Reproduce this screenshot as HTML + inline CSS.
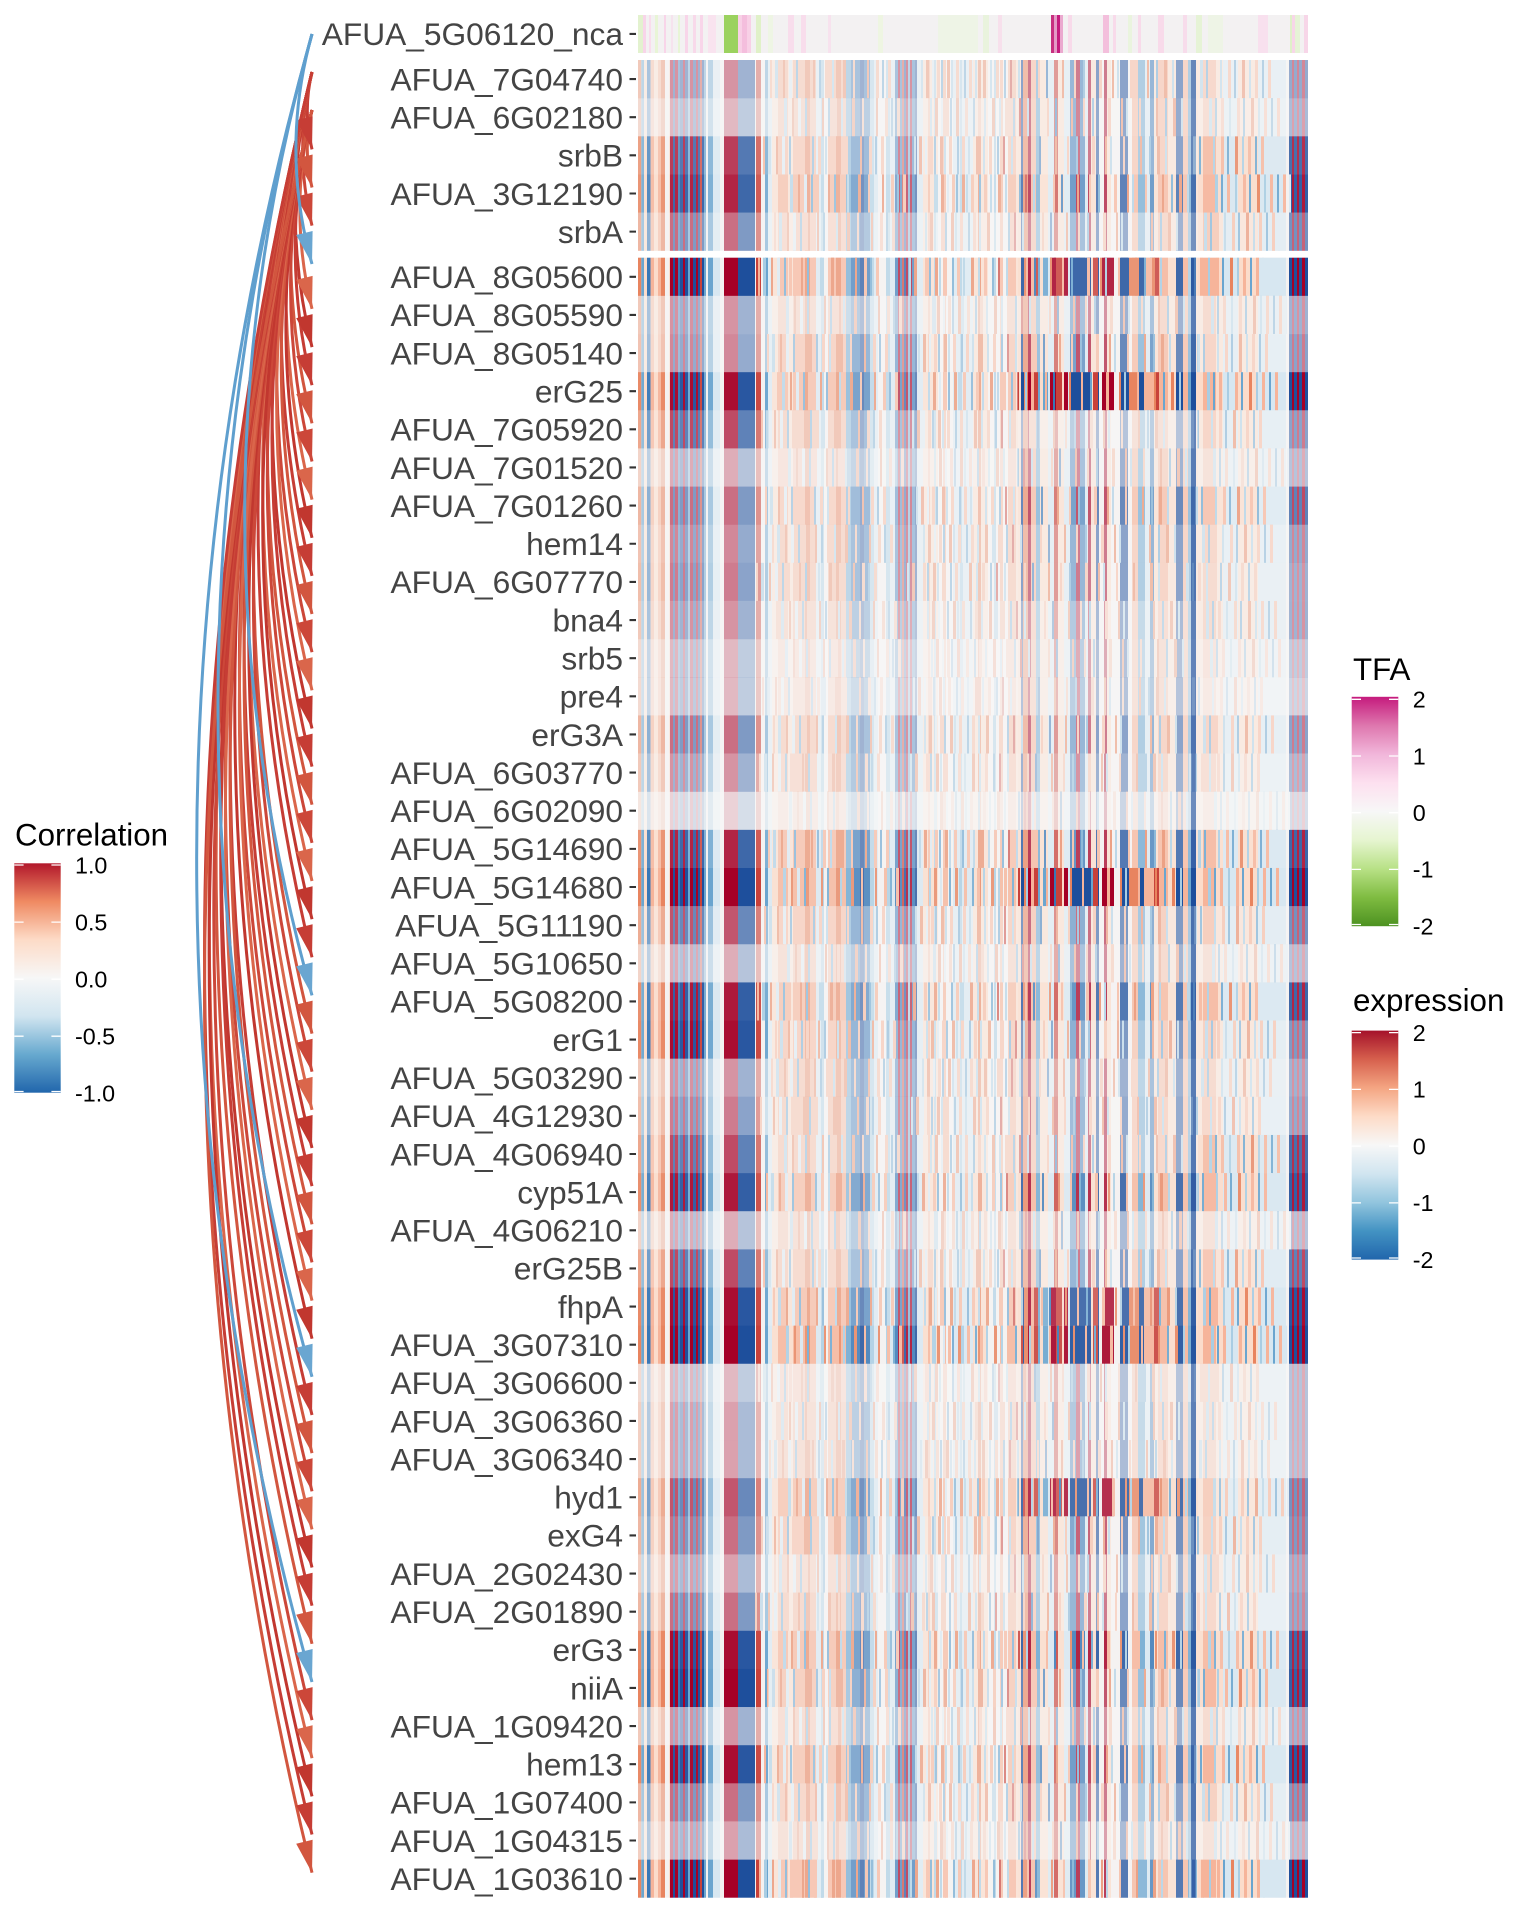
<!DOCTYPE html>
<html><head><meta charset="utf-8"><style>
html,body{margin:0;padding:0;background:#fff;}
svg{display:block;}
</style></head><body>
<svg width="1536" height="1920" viewBox="0 0 1536 1920" xmlns="http://www.w3.org/2000/svg" xmlns:xlink="http://www.w3.org/1999/xlink">
<defs>
<g id="pA">
<rect width="670" height="1" fill="#F4F1F0"/>
<rect x="0" width="3.3" height="1" fill="#E8845F"/><rect x="3.3" width="2.7" height="1" fill="#6AA5CF"/><rect x="6" width="3" height="1" fill="#FBDCCB"/><rect x="9" width="3.5" height="1" fill="#3877B6"/><rect x="12.5" width="3.5" height="1" fill="#F6B49A"/><rect x="16" width="4" height="1" fill="#FBDCCB"/><rect x="20" width="3" height="1" fill="#F6B49A"/><rect x="23" width="4" height="1" fill="#E8845F"/><rect x="31" width="1" height="1" fill="#FBDCCB"/>
<rect x="32" width="3" height="1" fill="#A50026"/><rect x="35" width="2" height="1" fill="#1E4F9C"/><rect x="37" width="3" height="1" fill="#A50026"/><rect x="40" width="2" height="1" fill="#3877B6"/><rect x="42" width="3" height="1" fill="#1E4F9C"/><rect x="45" width="2" height="1" fill="#A50026"/><rect x="47" width="3" height="1" fill="#1E4F9C"/><rect x="50" width="2" height="1" fill="#6AA5CF"/><rect x="52" width="3" height="1" fill="#A50026"/><rect x="55" width="3" height="1" fill="#1E4F9C"/><rect x="58" width="2" height="1" fill="#A50026"/><rect x="60" width="2" height="1" fill="#1E4F9C"/><rect x="62" width="2" height="1" fill="#C8413A"/><rect x="64" width="2" height="1" fill="#1E4F9C"/><rect x="66" width="2" height="1" fill="#6AA5CF"/>
<rect x="70" width="5" height="1" fill="#6AA5CF"/><rect x="75" width="7" height="1" fill="#D7E7F1"/><rect x="86" width="14" height="1" fill="#A50026"/><rect x="100" width="17" height="1" fill="#1E4F9C"/><rect x="118" width="5" height="1" fill="#C8413A"/><rect x="127" width="3" height="1" fill="#6AA5CF"/>
<rect x="130" width="4" height="1" fill="#D7E7F1"/><rect x="134" width="6" height="1" fill="#FBDCCB"/><rect x="140" width="10" height="1" fill="#F6B49A"/><rect x="150" width="5" height="1" fill="#FBDCCB"/><rect x="155" width="12" height="1" fill="#F6B49A"/><rect x="167" width="5" height="1" fill="#E8845F"/><rect x="172" width="6" height="1" fill="#F6B49A"/><rect x="178" width="5" height="1" fill="#D7E7F1"/><rect x="183" width="3" height="1" fill="#A9CDE3"/><rect x="190" width="8" height="1" fill="#F6B49A"/><rect x="198" width="5" height="1" fill="#E8845F"/><rect x="203" width="5" height="1" fill="#F6B49A"/>
<rect x="208" width="5" height="1" fill="#6AA5CF"/><rect x="213" width="9" height="1" fill="#3877B6"/><rect x="222" width="4" height="1" fill="#1E4F9C"/><rect x="226" width="6" height="1" fill="#3877B6"/><rect x="232" width="4" height="1" fill="#A9CDE3"/><rect x="236" width="4" height="1" fill="#D7E7F1"/><rect x="248" width="4" height="1" fill="#A9CDE3"/><rect x="252" width="5" height="1" fill="#D7E7F1"/>
<rect x="257" width="3" height="1" fill="#3877B6"/><rect x="260" width="2" height="1" fill="#A50026"/><rect x="262" width="2" height="1" fill="#3877B6"/><rect x="264" width="2" height="1" fill="#C8413A"/><rect x="266" width="2" height="1" fill="#1E4F9C"/><rect x="268" width="2" height="1" fill="#A50026"/><rect x="270" width="2" height="1" fill="#6AA5CF"/><rect x="272" width="2" height="1" fill="#A50026"/><rect x="274" width="3" height="1" fill="#3877B6"/><rect x="277" width="2" height="1" fill="#1E4F9C"/><rect x="279" width="6" height="1" fill="#D7E7F1"/>
<rect x="285" width="15" height="1" fill="#FBDCCB"/><rect x="315" width="20" height="1" fill="#D7E7F1"/><rect x="335" width="15" height="1" fill="#FBDCCB"/>
<rect x="290" width="2" height="1" fill="#F6B49A"/><rect x="296" width="2" height="1" fill="#A9CDE3"/><rect x="305" width="3" height="1" fill="#F6B49A"/><rect x="322" width="2" height="1" fill="#A9CDE3"/><rect x="340" width="3" height="1" fill="#E8845F"/><rect x="356" width="2" height="1" fill="#A9CDE3"/><rect x="362" width="3" height="1" fill="#F6B49A"/>
<rect x="370" width="8" height="1" fill="#F6B49A"/><rect x="378" width="5" height="1" fill="#FBDCCB"/><rect x="383" width="2" height="1" fill="#1E4F9C"/><rect x="385" width="5" height="1" fill="#E8845F"/><rect x="390" width="3" height="1" fill="#A50026"/><rect x="393" width="5" height="1" fill="#F6B49A"/><rect x="398" width="4" height="1" fill="#6AA5CF"/><rect x="402" width="8" height="1" fill="#FBDCCB"/><rect x="410" width="6" height="1" fill="#D7E7F1"/><rect x="416" width="4" height="1" fill="#C8413A"/><rect x="420" width="6" height="1" fill="#FBDCCB"/><rect x="426" width="6" height="1" fill="#D7E7F1"/>
<rect x="432" width="6" height="1" fill="#3877B6"/><rect x="438" width="4" height="1" fill="#A50026"/><rect x="442" width="5" height="1" fill="#3877B6"/><rect x="447" width="3" height="1" fill="#D7E7F1"/><rect x="450" width="3" height="1" fill="#A50026"/><rect x="453" width="5" height="1" fill="#FBDCCB"/><rect x="458" width="3" height="1" fill="#1E4F9C"/><rect x="466" width="3" height="1" fill="#A50026"/><rect x="469" width="4" height="1" fill="#FBDCCB"/><rect x="482" width="8" height="1" fill="#1E4F9C"/><rect x="494" width="6" height="1" fill="#F6B49A"/><rect x="500" width="7" height="1" fill="#6AA5CF"/><rect x="507" width="5" height="1" fill="#D7E7F1"/><rect x="512" width="4" height="1" fill="#3877B6"/><rect x="516" width="4" height="1" fill="#FBDCCB"/><rect x="520" width="10" height="1" fill="#F6B49A"/><rect x="530" width="8" height="1" fill="#FBDCCB"/>
<rect x="538" width="7" height="1" fill="#1E4F9C"/><rect x="545" width="5" height="1" fill="#F6B49A"/><rect x="550" width="3" height="1" fill="#6AA5CF"/><rect x="553" width="5" height="1" fill="#1E4F9C"/><rect x="558" width="7" height="1" fill="#FBDCCB"/><rect x="565" width="13" height="1" fill="#F6B49A"/><rect x="578" width="7" height="1" fill="#FBDCCB"/><rect x="585" width="15" height="1" fill="#D7E7F1"/><rect x="600" width="20" height="1" fill="#FBDCCB"/><rect x="620" width="28" height="1" fill="#D7E7F1"/>
<rect x="651" width="3" height="1" fill="#1E4F9C"/><rect x="654" width="2" height="1" fill="#A50026"/><rect x="656" width="3" height="1" fill="#1E4F9C"/><rect x="659" width="2" height="1" fill="#A50026"/><rect x="661" width="3" height="1" fill="#1E4F9C"/><rect x="664" width="3" height="1" fill="#A50026"/><rect x="667" width="3" height="1" fill="#1E4F9C"/>
</g>
<g id="pN">
<rect x="132" width="2" height="1" fill="#F6B49A"/><rect x="137" width="3" height="1" fill="#A9CDE3"/><rect x="145" width="2" height="1" fill="#E8845F"/><rect x="151" width="3" height="1" fill="#D7E7F1"/><rect x="158" width="2" height="1" fill="#6AA5CF"/><rect x="163" width="3" height="1" fill="#F6B49A"/><rect x="175" width="2" height="1" fill="#E8845F"/><rect x="181" width="2" height="1" fill="#6AA5CF"/><rect x="187" width="3" height="1" fill="#F6B49A"/><rect x="194" width="2" height="1" fill="#A9CDE3"/><rect x="205" width="3" height="1" fill="#E8845F"/><rect x="215" width="2" height="1" fill="#F6B49A"/><rect x="229" width="2" height="1" fill="#E8845F"/><rect x="238" width="3" height="1" fill="#F6B49A"/><rect x="244" width="2" height="1" fill="#6AA5CF"/><rect x="250" width="3" height="1" fill="#F6B49A"/>
<rect x="283" width="2" height="1" fill="#A9CDE3"/><rect x="288" width="3" height="1" fill="#E8845F"/><rect x="294" width="2" height="1" fill="#D7E7F1"/><rect x="299" width="3" height="1" fill="#F6B49A"/><rect x="303" width="2" height="1" fill="#6AA5CF"/><rect x="309" width="3" height="1" fill="#E8845F"/><rect x="313" width="2" height="1" fill="#A9CDE3"/><rect x="318" width="3" height="1" fill="#F6B49A"/><rect x="326" width="2" height="1" fill="#6AA5CF"/><rect x="331" width="3" height="1" fill="#F6B49A"/><rect x="337" width="2" height="1" fill="#A9CDE3"/><rect x="345" width="3" height="1" fill="#E8845F"/><rect x="352" width="2" height="1" fill="#A9CDE3"/><rect x="358" width="3" height="1" fill="#F6B49A"/><rect x="366" width="2" height="1" fill="#6AA5CF"/><rect x="372" width="2" height="1" fill="#C8413A"/><rect x="380" width="2" height="1" fill="#A9CDE3"/>
<rect x="400" width="2" height="1" fill="#F6B49A"/><rect x="408" width="2" height="1" fill="#3877B6"/><rect x="424" width="2" height="1" fill="#E8845F"/><rect x="436" width="2" height="1" fill="#F6B49A"/><rect x="445" width="2" height="1" fill="#6AA5CF"/><rect x="461" width="3" height="1" fill="#F6B49A"/><rect x="474" width="2" height="1" fill="#E8845F"/><rect x="479" width="2" height="1" fill="#A9CDE3"/><rect x="492" width="2" height="1" fill="#F6B49A"/><rect x="509" width="2" height="1" fill="#E8845F"/><rect x="518" width="2" height="1" fill="#6AA5CF"/><rect x="526" width="3" height="1" fill="#E8845F"/><rect x="534" width="2" height="1" fill="#A9CDE3"/>
<rect x="562" width="3" height="1" fill="#A9CDE3"/><rect x="568" width="2" height="1" fill="#6AA5CF"/><rect x="574" width="3" height="1" fill="#F6B49A"/><rect x="582" width="2" height="1" fill="#A9CDE3"/><rect x="590" width="3" height="1" fill="#F6B49A"/><rect x="596" width="2" height="1" fill="#6AA5CF"/><rect x="604" width="3" height="1" fill="#E8845F"/><rect x="611" width="2" height="1" fill="#A9CDE3"/><rect x="617" width="3" height="1" fill="#F6B49A"/><rect x="624" width="2" height="1" fill="#6AA5CF"/><rect x="630" width="3" height="1" fill="#F6B49A"/><rect x="636" width="2" height="1" fill="#D7E7F1"/>
</g>
<g id="pB">
<rect x="383" width="3" height="1" fill="#1E4F9C"/><rect x="390" width="3" height="1" fill="#A50026"/><rect x="396" width="4" height="1" fill="#C8413A"/><rect x="405" width="5" height="1" fill="#6AA5CF"/><rect x="412" width="6" height="1" fill="#A50026"/><rect x="420" width="4" height="1" fill="#C8413A"/><rect x="426" width="4" height="1" fill="#A50026"/><rect x="432" width="21" height="1" fill="#1E4F9C"/><rect x="455" width="5" height="1" fill="#C8413A"/><rect x="464" width="12" height="1" fill="#A50026"/><rect x="476" width="6" height="1" fill="#F4F1F0"/><rect x="483" width="8" height="1" fill="#1E4F9C"/><rect x="491" width="10" height="1" fill="#E8845F"/><rect x="501" width="5" height="1" fill="#1E4F9C"/><rect x="506" width="10" height="1" fill="#F6B49A"/><rect x="516" width="5" height="1" fill="#C8413A"/><rect x="541" width="4" height="1" fill="#1E4F9C"/>
</g>
<g id="pT">
<rect width="670" height="1" fill="#F3F1F2"/>
<rect x="0" width="5" height="1" fill="#E3F2CF"/><rect x="5" width="3" height="1" fill="#F8D5E9"/><rect x="11" width="2" height="1" fill="#F9DDEC"/><rect x="17" width="3" height="1" fill="#E8F5D6"/><rect x="26" width="2" height="1" fill="#F8D5E9"/><rect x="33" width="2" height="1" fill="#F6E3EE"/><rect x="40" width="2" height="1" fill="#E8F5D6"/><rect x="47" width="3" height="1" fill="#F8D5E9"/><rect x="55" width="3" height="1" fill="#F8D9EA"/><rect x="62" width="3" height="1" fill="#F8D5E9"/><rect x="70" width="8" height="1" fill="#F9E3EF"/>
<rect x="86" width="14" height="1" fill="#9BD25F"/><rect x="100" width="4" height="1" fill="#F8D0E6"/><rect x="104" width="5" height="1" fill="#F4BEDD"/><rect x="109" width="4" height="1" fill="#F8D0E6"/><rect x="118" width="5" height="1" fill="#E0F1C8"/><rect x="130" width="5" height="1" fill="#EEF5E4"/><rect x="150" width="6" height="1" fill="#F8DDEC"/><rect x="163" width="5" height="1" fill="#F8DDEC"/><rect x="190" width="3" height="1" fill="#F7E2EE"/><rect x="240" width="5" height="1" fill="#EEF5E2"/>
<rect x="300" width="40" height="1" fill="#EEF4E6"/><rect x="345" width="6" height="1" fill="#E9F3DD"/><rect x="360" width="4" height="1" fill="#F7E0EC"/>
<rect x="413" width="3" height="1" fill="#C7307F"/><rect x="416" width="3" height="1" fill="#E49AC6"/><rect x="419" width="3" height="1" fill="#C51B7D"/><rect x="422" width="3" height="1" fill="#EBA9CF"/><rect x="430" width="4" height="1" fill="#F8DAEA"/><rect x="465" width="6" height="1" fill="#F3BFDC"/><rect x="475" width="3" height="1" fill="#F8DAEA"/><rect x="490" width="4" height="1" fill="#EAF4DE"/><rect x="500" width="3" height="1" fill="#F8DAEA"/><rect x="520" width="6" height="1" fill="#F8DAEA"/><rect x="545" width="4" height="1" fill="#F7DCEB"/><rect x="558" width="6" height="1" fill="#E6F3D6"/><rect x="570" width="15" height="1" fill="#EEF4E6"/><rect x="620" width="10" height="1" fill="#F8E0EE"/><rect x="652" width="2" height="1" fill="#DFF0C8"/><rect x="654" width="3" height="1" fill="#F7D6E8"/><rect x="657" width="5" height="1" fill="#E6F3D6"/><rect x="666" width="4" height="1" fill="#F7D6E8"/>
</g>
<linearGradient id="gCor" x1="0" y1="0" x2="0" y2="1">
<stop offset="0" stop-color="#B2182B"/><stop offset=".1667" stop-color="#EF8A62"/><stop offset=".3333" stop-color="#FDDBC7"/><stop offset=".5" stop-color="#F7F7F7"/><stop offset=".6667" stop-color="#D1E5F0"/><stop offset=".8333" stop-color="#67A9CF"/><stop offset="1" stop-color="#2166AC"/>
</linearGradient>
<linearGradient id="gTFA" x1="0" y1="0" x2="0" y2="1">
<stop offset="0" stop-color="#C51B7D"/><stop offset=".125" stop-color="#DE77AE"/><stop offset=".25" stop-color="#F1B6DA"/><stop offset=".375" stop-color="#FDE0EF"/><stop offset=".5" stop-color="#F7F7F7"/><stop offset=".625" stop-color="#E6F5D0"/><stop offset=".75" stop-color="#B8E186"/><stop offset=".875" stop-color="#7FBC41"/><stop offset="1" stop-color="#4D9221"/>
</linearGradient>
<linearGradient id="gExp" x1="0" y1="0" x2="0" y2="1">
<stop offset="0" stop-color="#A5122A"/><stop offset=".125" stop-color="#D6604D"/><stop offset=".25" stop-color="#F4A582"/><stop offset=".375" stop-color="#FDDBC7"/><stop offset=".5" stop-color="#F7F7F7"/><stop offset=".625" stop-color="#D1E5F0"/><stop offset=".75" stop-color="#92C5DE"/><stop offset=".875" stop-color="#4393C3"/><stop offset="1" stop-color="#2166AC"/>
</linearGradient>
<polygon id="ah" points="0,0 0.6,-33 -15.8,-29"/>
</defs>
<rect width="1536" height="1920" fill="#fff"/>

<!-- heatmap -->
<use href="#pT" transform="translate(638,15) scale(1,38)"/>
<use href="#pA" transform="translate(638,60) scale(1,190.7)"/>
<use href="#pA" transform="translate(638,257.7) scale(1,1640)"/>
<use href="#pB" transform="translate(638,257.7) scale(1,38.14)"/>
<use href="#pB" transform="translate(638,372.12) scale(1,38.14)"/>
<use href="#pB" transform="translate(638,867.94) scale(1,38.14)"/>
<use href="#pB" transform="translate(638,1287.48) scale(1,38.14)"/>
<use href="#pB" transform="translate(638,1325.62) scale(1,38.14)"/>
<use href="#pB" transform="translate(638,1478.18) scale(1,38.14)"/>

<!-- per-row noise stripes -->
<use href="#pN" transform="translate(638,60) scale(1,38.14)"/>
<use href="#pN" transform="translate(647,98.14) scale(1,38.14)"/>
<use href="#pN" transform="translate(631,136.28) scale(1,38.14)"/>
<use href="#pN" transform="translate(653,174.42) scale(1,38.14)"/>
<use href="#pN" transform="translate(642,212.56) scale(1,38.14)"/>
<use href="#pN" transform="translate(626,257.7) scale(1,38.14)"/>
<use href="#pN" transform="translate(649,295.84) scale(1,38.14)"/>
<use href="#pN" transform="translate(635,333.98) scale(1,38.14)"/>
<use href="#pN" transform="translate(645,372.12) scale(1,38.14)"/>
<use href="#pN" transform="translate(629,410.26) scale(1,38.14)"/>
<use href="#pN" transform="translate(651,448.4) scale(1,38.14)"/>
<use href="#pN" transform="translate(633,486.54) scale(1,38.14)"/>
<use href="#pN" transform="translate(640,524.68) scale(1,38.14)"/>
<use href="#pN" transform="translate(624,562.82) scale(1,38.14)"/>
<use href="#pN" transform="translate(644,600.96) scale(1,38.14)"/>
<use href="#pN" transform="translate(648,639.1) scale(1,38.14)"/>
<use href="#pN" transform="translate(630,677.24) scale(1,38.14)"/>
<use href="#pN" transform="translate(641,715.38) scale(1,38.14)"/>
<use href="#pN" transform="translate(627,753.52) scale(1,38.14)"/>
<use href="#pN" transform="translate(652,791.66) scale(1,38.14)"/>
<use href="#pN" transform="translate(636,829.8) scale(1,38.14)"/>
<use href="#pN" transform="translate(646,867.94) scale(1,38.14)"/>
<use href="#pN" transform="translate(632,906.08) scale(1,38.14)"/>
<use href="#pN" transform="translate(650,944.22) scale(1,38.14)"/>
<use href="#pN" transform="translate(625,982.36) scale(1,38.14)"/>
<use href="#pN" transform="translate(643,1020.5) scale(1,38.14)"/>
<use href="#pN" transform="translate(639,1058.64) scale(1,38.14)"/>
<use href="#pN" transform="translate(628,1096.78) scale(1,38.14)"/>
<use href="#pN" transform="translate(647,1134.92) scale(1,38.14)"/>
<use href="#pN" transform="translate(634,1173.06) scale(1,38.14)"/>
<use href="#pN" transform="translate(653,1211.2) scale(1,38.14)"/>
<use href="#pN" transform="translate(631,1249.34) scale(1,38.14)"/>
<use href="#pN" transform="translate(641,1287.48) scale(1,38.14)"/>
<use href="#pN" transform="translate(649,1325.62) scale(1,38.14)"/>
<use href="#pN" transform="translate(626,1363.76) scale(1,38.14)"/>
<use href="#pN" transform="translate(644,1401.9) scale(1,38.14)"/>
<use href="#pN" transform="translate(637,1440.04) scale(1,38.14)"/>
<use href="#pN" transform="translate(651,1478.18) scale(1,38.14)"/>
<use href="#pN" transform="translate(629,1516.32) scale(1,38.14)"/>
<use href="#pN" transform="translate(642,1554.46) scale(1,38.14)"/>
<use href="#pN" transform="translate(623,1592.6) scale(1,38.14)"/>
<use href="#pN" transform="translate(646,1630.74) scale(1,38.14)"/>
<use href="#pN" transform="translate(635,1668.88) scale(1,38.14)"/>
<use href="#pN" transform="translate(648,1707.02) scale(1,38.14)"/>
<use href="#pN" transform="translate(632,1745.16) scale(1,38.14)"/>
<use href="#pN" transform="translate(640,1783.3) scale(1,38.14)"/>
<use href="#pN" transform="translate(652,1821.44) scale(1,38.14)"/>
<use href="#pN" transform="translate(627,1859.58) scale(1,38.14)"/>

<g fill="#F7F7F7">
<g transform="translate(0,60)"><rect x="638" width="130" height="38.2" fill-opacity=".6"/><rect x="768" width="250" height="38.2" fill-opacity=".6"/><rect x="1018" width="180" height="38.2" fill-opacity=".5"/><rect x="1198" width="110" height="38.2" fill-opacity=".55"/></g>
<g transform="translate(0,98.14)"><rect x="638" width="130" height="38.2" fill-opacity=".75"/><rect x="768" width="250" height="38.2" fill-opacity=".7"/><rect x="1018" width="180" height="38.2" fill-opacity=".55"/><rect x="1198" width="110" height="38.2" fill-opacity=".65"/></g>
<g transform="translate(0,136.28)"><rect x="638" width="130" height="38.2" fill-opacity=".25"/><rect x="768" width="250" height="38.2" fill-opacity=".55"/><rect x="1018" width="180" height="38.2" fill-opacity=".5"/><rect x="1198" width="110" height="38.2" fill-opacity=".2"/></g>
<g transform="translate(0,174.42)"><rect x="638" width="130" height="38.2" fill-opacity=".15"/><rect x="768" width="250" height="38.2" fill-opacity=".4"/><rect x="1018" width="180" height="38.2" fill-opacity=".3"/><rect x="1198" width="110" height="38.2" fill-opacity=".1"/></g>
<g transform="translate(0,212.56)"><rect x="638" width="130" height="38.14" fill-opacity=".45"/><rect x="768" width="250" height="38.14" fill-opacity=".65"/><rect x="1018" width="180" height="38.14" fill-opacity=".6"/><rect x="1198" width="110" height="38.14" fill-opacity=".4"/></g>

<g transform="translate(0,257.7)"><rect x="768" width="250" height="38.2" fill-opacity=".3"/><rect x="1018" width="180" height="38.2" fill-opacity=".15"/></g>
<g transform="translate(0,295.84)"><rect x="638" width="130" height="38.2" fill-opacity=".6"/><rect x="768" width="250" height="38.2" fill-opacity=".7"/><rect x="1018" width="180" height="38.2" fill-opacity=".6"/><rect x="1198" width="110" height="38.2" fill-opacity=".6"/></g>
<g transform="translate(0,333.98)"><rect x="638" width="130" height="38.2" fill-opacity=".55"/><rect x="768" width="250" height="38.2" fill-opacity=".5"/><rect x="1018" width="180" height="38.2" fill-opacity=".35"/><rect x="1198" width="110" height="38.2" fill-opacity=".5"/></g>
<g transform="translate(0,372.12)"><rect x="638" width="130" height="38.2" fill-opacity=".05"/><rect x="768" width="250" height="38.2" fill-opacity=".35"/></g>
<g transform="translate(0,410.26)"><rect x="638" width="130" height="38.2" fill-opacity=".3"/><rect x="768" width="250" height="38.2" fill-opacity=".6"/><rect x="1018" width="180" height="38.2" fill-opacity=".7"/><rect x="1198" width="110" height="38.2" fill-opacity=".5"/></g>
<g transform="translate(0,448.4)"><rect x="638" width="130" height="38.2" fill-opacity=".7"/><rect x="768" width="250" height="38.2" fill-opacity=".75"/><rect x="1018" width="180" height="38.2" fill-opacity=".6"/><rect x="1198" width="110" height="38.2" fill-opacity=".7"/></g>
<g transform="translate(0,486.54)"><rect x="638" width="130" height="38.2" fill-opacity=".45"/><rect x="768" width="250" height="38.2" fill-opacity=".55"/><rect x="1018" width="180" height="38.2" fill-opacity=".35"/><rect x="1198" width="110" height="38.2" fill-opacity=".3"/></g>
<g transform="translate(0,524.68)"><rect x="638" width="130" height="38.2" fill-opacity=".55"/><rect x="768" width="250" height="38.2" fill-opacity=".6"/><rect x="1018" width="180" height="38.2" fill-opacity=".5"/><rect x="1198" width="110" height="38.2" fill-opacity=".55"/></g>
<g transform="translate(0,562.82)"><rect x="638" width="130" height="38.2" fill-opacity=".5"/><rect x="768" width="250" height="38.2" fill-opacity=".6"/><rect x="1018" width="180" height="38.2" fill-opacity=".5"/><rect x="1198" width="110" height="38.2" fill-opacity=".6"/></g>
<g transform="translate(0,600.96)"><rect x="638" width="130" height="38.2" fill-opacity=".6"/><rect x="768" width="250" height="38.2" fill-opacity=".7"/><rect x="1018" width="180" height="38.2" fill-opacity=".65"/><rect x="1198" width="110" height="38.2" fill-opacity=".6"/></g>
<g transform="translate(0,639.1)"><rect x="638" width="130" height="38.2" fill-opacity=".75"/><rect x="768" width="250" height="38.2" fill-opacity=".8"/><rect x="1018" width="180" height="38.2" fill-opacity=".7"/><rect x="1198" width="110" height="38.2" fill-opacity=".75"/></g>
<g transform="translate(0,677.24)"><rect x="638" width="130" height="38.2" fill-opacity=".75"/><rect x="768" width="250" height="38.2" fill-opacity=".8"/><rect x="1018" width="180" height="38.2" fill-opacity=".7"/><rect x="1198" width="110" height="38.2" fill-opacity=".8"/></g>
<g transform="translate(0,715.38)"><rect x="638" width="130" height="38.2" fill-opacity=".45"/><rect x="768" width="250" height="38.2" fill-opacity=".6"/><rect x="1018" width="180" height="38.2" fill-opacity=".5"/><rect x="1198" width="110" height="38.2" fill-opacity=".5"/></g>
<g transform="translate(0,753.52)"><rect x="638" width="130" height="38.2" fill-opacity=".6"/><rect x="768" width="250" height="38.2" fill-opacity=".65"/><rect x="1018" width="180" height="38.2" fill-opacity=".6"/><rect x="1198" width="110" height="38.2" fill-opacity=".65"/></g>
<g transform="translate(0,791.66)"><rect x="638" width="130" height="38.2" fill-opacity=".85"/><rect x="768" width="250" height="38.2" fill-opacity=".85"/><rect x="1018" width="180" height="38.2" fill-opacity=".8"/><rect x="1198" width="110" height="38.2" fill-opacity=".85"/></g>
<g transform="translate(0,829.8)"><rect x="638" width="130" height="38.2" fill-opacity=".15"/><rect x="768" width="250" height="38.2" fill-opacity=".35"/><rect x="1018" width="180" height="38.2" fill-opacity=".25"/><rect x="1198" width="110" height="38.2" fill-opacity=".15"/></g>
<g transform="translate(0,867.94)"><rect x="768" width="250" height="38.2" fill-opacity=".2"/></g>
<g transform="translate(0,906.08)"><rect x="638" width="130" height="38.2" fill-opacity=".35"/><rect x="768" width="250" height="38.2" fill-opacity=".5"/><rect x="1018" width="180" height="38.2" fill-opacity=".45"/><rect x="1198" width="110" height="38.2" fill-opacity=".4"/></g>
<g transform="translate(0,944.22)"><rect x="638" width="130" height="38.2" fill-opacity=".7"/><rect x="768" width="250" height="38.2" fill-opacity=".7"/><rect x="1018" width="180" height="38.2" fill-opacity=".6"/><rect x="1198" width="110" height="38.2" fill-opacity=".7"/></g>
<g transform="translate(0,982.36)"><rect x="638" width="130" height="38.2" fill-opacity=".1"/><rect x="768" width="250" height="38.2" fill-opacity=".4"/><rect x="1018" width="180" height="38.2" fill-opacity=".25"/><rect x="1198" width="110" height="38.2" fill-opacity=".15"/></g>
<g transform="translate(0,1020.5)"><rect x="638" width="130" height="38.2" fill-opacity=".05"/><rect x="768" width="250" height="38.2" fill-opacity=".5"/><rect x="1018" width="180" height="38.2" fill-opacity=".45"/><rect x="1198" width="110" height="38.2" fill-opacity=".45"/></g>
<g transform="translate(0,1058.64)"><rect x="638" width="130" height="38.2" fill-opacity=".6"/><rect x="768" width="250" height="38.2" fill-opacity=".6"/><rect x="1018" width="180" height="38.2" fill-opacity=".6"/><rect x="1198" width="110" height="38.2" fill-opacity=".6"/></g>
<g transform="translate(0,1096.78)"><rect x="638" width="130" height="38.2" fill-opacity=".5"/><rect x="768" width="250" height="38.2" fill-opacity=".6"/><rect x="1018" width="180" height="38.2" fill-opacity=".55"/><rect x="1198" width="110" height="38.2" fill-opacity=".55"/></g>
<g transform="translate(0,1134.92)"><rect x="638" width="130" height="38.2" fill-opacity=".3"/><rect x="768" width="250" height="38.2" fill-opacity=".6"/><rect x="1018" width="180" height="38.2" fill-opacity=".55"/><rect x="1198" width="110" height="38.2" fill-opacity=".2"/></g>
<g transform="translate(0,1173.06)"><rect x="638" width="130" height="38.2" fill-opacity=".1"/><rect x="768" width="250" height="38.2" fill-opacity=".4"/><rect x="1018" width="180" height="38.2" fill-opacity=".2"/><rect x="1198" width="110" height="38.2" fill-opacity=".1"/></g>
<g transform="translate(0,1211.2)"><rect x="638" width="130" height="38.2" fill-opacity=".7"/><rect x="768" width="250" height="38.2" fill-opacity=".7"/><rect x="1018" width="180" height="38.2" fill-opacity=".65"/><rect x="1198" width="110" height="38.2" fill-opacity=".7"/></g>
<g transform="translate(0,1249.34)"><rect x="638" width="130" height="38.2" fill-opacity=".3"/><rect x="768" width="250" height="38.2" fill-opacity=".6"/><rect x="1018" width="180" height="38.2" fill-opacity=".5"/><rect x="1198" width="110" height="38.2" fill-opacity=".3"/></g>
<g transform="translate(0,1287.48)"><rect x="638" width="130" height="38.2" fill-opacity=".05"/><rect x="768" width="250" height="38.2" fill-opacity=".35"/><rect x="1018" width="180" height="38.2" fill-opacity=".2"/><rect x="1198" width="110" height="38.2" fill-opacity=".05"/></g>
<g transform="translate(0,1325.62)"><rect x="768" width="250" height="38.2" fill-opacity=".15"/><rect x="1018" width="180" height="38.2" fill-opacity=".1"/></g>
<g transform="translate(0,1363.76)"><rect x="638" width="130" height="38.2" fill-opacity=".75"/><rect x="768" width="250" height="38.2" fill-opacity=".75"/><rect x="1018" width="180" height="38.2" fill-opacity=".7"/><rect x="1198" width="110" height="38.2" fill-opacity=".7"/></g>
<g transform="translate(0,1401.9)"><rect x="638" width="130" height="38.2" fill-opacity=".65"/><rect x="768" width="250" height="38.2" fill-opacity=".7"/><rect x="1018" width="180" height="38.2" fill-opacity=".65"/><rect x="1198" width="110" height="38.2" fill-opacity=".7"/></g>
<g transform="translate(0,1440.04)"><rect x="638" width="130" height="38.2" fill-opacity=".65"/><rect x="768" width="250" height="38.2" fill-opacity=".7"/><rect x="1018" width="180" height="38.2" fill-opacity=".65"/><rect x="1198" width="110" height="38.2" fill-opacity=".7"/></g>
<g transform="translate(0,1478.18)"><rect x="638" width="130" height="38.2" fill-opacity=".35"/><rect x="768" width="250" height="38.2" fill-opacity=".4"/><rect x="1018" width="180" height="38.2" fill-opacity=".2"/><rect x="1198" width="110" height="38.2" fill-opacity=".4"/></g>
<g transform="translate(0,1516.32)"><rect x="638" width="130" height="38.2" fill-opacity=".45"/><rect x="768" width="250" height="38.2" fill-opacity=".5"/><rect x="1018" width="180" height="38.2" fill-opacity=".4"/><rect x="1198" width="110" height="38.2" fill-opacity=".45"/></g>
<g transform="translate(0,1554.46)"><rect x="638" width="130" height="38.2" fill-opacity=".65"/><rect x="768" width="250" height="38.2" fill-opacity=".7"/><rect x="1018" width="180" height="38.2" fill-opacity=".6"/><rect x="1198" width="110" height="38.2" fill-opacity=".6"/></g>
<g transform="translate(0,1592.6)"><rect x="638" width="130" height="38.2" fill-opacity=".45"/><rect x="768" width="250" height="38.2" fill-opacity=".6"/><rect x="1018" width="180" height="38.2" fill-opacity=".5"/><rect x="1198" width="110" height="38.2" fill-opacity=".55"/></g>
<g transform="translate(0,1630.74)"><rect x="638" width="130" height="38.2" fill-opacity=".05"/><rect x="768" width="250" height="38.2" fill-opacity=".35"/><rect x="1018" width="180" height="38.2" fill-opacity=".15"/><rect x="1198" width="110" height="38.2" fill-opacity=".15"/></g>
<g transform="translate(0,1668.88)"><rect x="768" width="250" height="38.2" fill-opacity=".45"/><rect x="1018" width="180" height="38.2" fill-opacity=".35"/><rect x="1198" width="110" height="38.2" fill-opacity=".1"/></g>
<g transform="translate(0,1707.02)"><rect x="638" width="130" height="38.2" fill-opacity=".6"/><rect x="768" width="250" height="38.2" fill-opacity=".65"/><rect x="1018" width="180" height="38.2" fill-opacity=".6"/><rect x="1198" width="110" height="38.2" fill-opacity=".6"/></g>
<g transform="translate(0,1745.16)"><rect x="638" width="130" height="38.2" fill-opacity=".05"/><rect x="768" width="250" height="38.2" fill-opacity=".4"/><rect x="1018" width="180" height="38.2" fill-opacity=".3"/><rect x="1198" width="110" height="38.2" fill-opacity=".05"/></g>
<g transform="translate(0,1783.3)"><rect x="638" width="130" height="38.2" fill-opacity=".45"/><rect x="768" width="250" height="38.2" fill-opacity=".55"/><rect x="1018" width="180" height="38.2" fill-opacity=".5"/><rect x="1198" width="110" height="38.2" fill-opacity=".45"/></g>
<g transform="translate(0,1821.44)"><rect x="638" width="130" height="38.2" fill-opacity=".65"/><rect x="768" width="250" height="38.2" fill-opacity=".7"/><rect x="1018" width="180" height="38.2" fill-opacity=".65"/><rect x="1198" width="110" height="38.2" fill-opacity=".7"/></g>
<g transform="translate(0,1859.58)"><rect x="768" width="250" height="38.14" fill-opacity=".3"/><rect x="1018" width="180" height="38.14" fill-opacity=".25"/></g>
</g>
<rect x="1191" y="257.7" width="5" height="1640" fill="#1E4F9C" fill-opacity=".55"/>
<rect x="1191" y="60" width="5" height="190.7" fill="#1E4F9C" fill-opacity=".35"/>

<!-- y ticks -->
<path d="M629.5,33.9h6.5M629.5,79.07h6.5M629.5,117.21h6.5M629.5,155.35h6.5M629.5,193.49h6.5M629.5,231.63h6.5M629.5,276.77h6.5M629.5,314.91h6.5M629.5,353.05h6.5M629.5,391.19h6.5M629.5,429.33h6.5M629.5,467.47h6.5M629.5,505.61h6.5M629.5,543.75h6.5M629.5,581.89h6.5M629.5,620.03h6.5M629.5,658.17h6.5M629.5,696.31h6.5M629.5,734.45h6.5M629.5,772.59h6.5M629.5,810.73h6.5M629.5,848.87h6.5M629.5,887.01h6.5M629.5,925.15h6.5M629.5,963.29h6.5M629.5,1001.43h6.5M629.5,1039.57h6.5M629.5,1077.71h6.5M629.5,1115.85h6.5M629.5,1153.99h6.5M629.5,1192.13h6.5M629.5,1230.27h6.5M629.5,1268.41h6.5M629.5,1306.55h6.5M629.5,1344.69h6.5M629.5,1382.83h6.5M629.5,1420.97h6.5M629.5,1459.11h6.5M629.5,1497.25h6.5M629.5,1535.39h6.5M629.5,1573.53h6.5M629.5,1611.67h6.5M629.5,1649.81h6.5M629.5,1687.95h6.5M629.5,1726.09h6.5M629.5,1764.23h6.5M629.5,1802.37h6.5M629.5,1840.51h6.5M629.5,1878.65h6.5" stroke="#333" stroke-width="2.1" fill="none"/>

<!-- y labels -->
<g font-family="'Liberation Sans', Arial, sans-serif" font-size="31.7" fill="#444" text-anchor="end">
<text x="623" y="45.2">AFUA_5G06120_nca</text>
<text x="623" y="90.4">AFUA_7G04740</text>
<text x="623" y="128.5">AFUA_6G02180</text>
<text x="623" y="166.7">srbB</text>
<text x="623" y="204.8">AFUA_3G12190</text>
<text x="623" y="242.9">srbA</text>
<text x="623" y="288.1">AFUA_8G05600</text>
<text x="623" y="326.2">AFUA_8G05590</text>
<text x="623" y="364.4">AFUA_8G05140</text>
<text x="623" y="402.5">erG25</text>
<text x="623" y="440.6">AFUA_7G05920</text>
<text x="623" y="478.8">AFUA_7G01520</text>
<text x="623" y="516.9">AFUA_7G01260</text>
<text x="623" y="555.1">hem14</text>
<text x="623" y="593.2">AFUA_6G07770</text>
<text x="623" y="631.3">bna4</text>
<text x="623" y="669.5">srb5</text>
<text x="623" y="707.6">pre4</text>
<text x="623" y="745.8">erG3A</text>
<text x="623" y="783.9">AFUA_6G03770</text>
<text x="623" y="822">AFUA_6G02090</text>
<text x="623" y="860.2">AFUA_5G14690</text>
<text x="623" y="898.3">AFUA_5G14680</text>
<text x="623" y="936.5">AFUA_5G11190</text>
<text x="623" y="974.6">AFUA_5G10650</text>
<text x="623" y="1012.7">AFUA_5G08200</text>
<text x="623" y="1050.9">erG1</text>
<text x="623" y="1089">AFUA_5G03290</text>
<text x="623" y="1127.2">AFUA_4G12930</text>
<text x="623" y="1165.3">AFUA_4G06940</text>
<text x="623" y="1203.4">cyp51A</text>
<text x="623" y="1241.6">AFUA_4G06210</text>
<text x="623" y="1279.7">erG25B</text>
<text x="623" y="1317.9">fhpA</text>
<text x="623" y="1356">AFUA_3G07310</text>
<text x="623" y="1394.1">AFUA_3G06600</text>
<text x="623" y="1432.3">AFUA_3G06360</text>
<text x="623" y="1470.4">AFUA_3G06340</text>
<text x="623" y="1508.6">hyd1</text>
<text x="623" y="1546.7">exG4</text>
<text x="623" y="1584.8">AFUA_2G02430</text>
<text x="623" y="1623">AFUA_2G01890</text>
<text x="623" y="1661.1">erG3</text>
<text x="623" y="1699.3">niiA</text>
<text x="623" y="1737.4">AFUA_1G09420</text>
<text x="623" y="1775.5">hem13</text>
<text x="623" y="1813.7">AFUA_1G07400</text>
<text x="623" y="1851.8">AFUA_1G04315</text>
<text x="623" y="1890">AFUA_1G03610</text>
</g>

<!-- arrows: red -->
<g fill="none" stroke-width="3">
<path d="M312,72Q302.6,110.7 312,149.4" stroke="#C63D35"/>
<path d="M312,110Q302.5,148.8 312,187.5" stroke="#D2563F"/>
<path d="M312,72Q293.3,148.8 312,225.6" stroke="#CC4739"/>
<path d="M312,110Q287.7,209.5 312,308.9" stroke="#DA664B"/>
<path d="M312,72Q278.4,209.6 312,347.1" stroke="#C1372F"/>
<path d="M312,110Q278.4,247.6 312,385.2" stroke="#C63D35"/>
<path d="M312,72Q269.1,247.7 312,423.3" stroke="#D2563F"/>
<path d="M312,110Q269.1,285.8 312,461.5" stroke="#CC4739"/>
<path d="M312,72Q259.8,285.8 312,499.6" stroke="#DA664B"/>
<path d="M312,110Q259.8,323.9 312,537.8" stroke="#C1372F"/>
<path d="M312,72Q250.5,324 312,575.9" stroke="#C63D35"/>
<path d="M312,110Q250.5,362 312,614" stroke="#D2563F"/>
<path d="M312,72Q241.2,362.1 312,652.2" stroke="#CC4739"/>
<path d="M312,110Q241.2,400.2 312,690.3" stroke="#DA664B"/>
<path d="M312,72Q231.9,400.3 312,728.5" stroke="#C1372F"/>
<path d="M312,110Q231.9,438.3 312,766.6" stroke="#C63D35"/>
<path d="M312,72Q222.6,438.4 312,804.7" stroke="#D2563F"/>
<path d="M312,110Q222.6,476.5 312,842.9" stroke="#CC4739"/>
<path d="M312,72Q213.3,476.5 312,881" stroke="#DA664B"/>
<path d="M312,110Q213.3,514.6 312,919.2" stroke="#C1372F"/>
<path d="M312,72Q204,514.7 312,957.3" stroke="#C63D35"/>
<path d="M312,72Q194.7,552.8 312,1033.6" stroke="#D2563F"/>
<path d="M312,110Q194.7,590.9 312,1071.7" stroke="#CC4739"/>
<path d="M312,72Q185.4,591 312,1109.9" stroke="#DA664B"/>
<path d="M312,110Q185.4,629 312,1148" stroke="#C1372F"/>
<path d="M312,72Q176.1,629.1 312,1186.1" stroke="#C63D35"/>
<path d="M312,110Q176.1,667.2 312,1224.3" stroke="#D2563F"/>
<path d="M312,72Q166.8,667.2 312,1262.4" stroke="#CC4739"/>
<path d="M312,110Q166.7,705.3 312,1300.6" stroke="#DA664B"/>
<path d="M312,72Q157.5,705.4 312,1338.7" stroke="#C1372F"/>
<path d="M312,72Q148.2,743.5 312,1415" stroke="#C63D35"/>
<path d="M312,110Q148.1,781.6 312,1453.1" stroke="#D2563F"/>
<path d="M312,72Q138.8,781.7 312,1491.3" stroke="#CC4739"/>
<path d="M312,110Q138.8,819.7 312,1529.4" stroke="#DA664B"/>
<path d="M312,72Q129.5,819.8 312,1567.5" stroke="#C1372F"/>
<path d="M312,110Q129.5,857.9 312,1605.7" stroke="#C63D35"/>
<path d="M312,72Q120.2,857.9 312,1643.8" stroke="#D2563F"/>
<path d="M312,110Q115.6,915.1 312,1720.1" stroke="#CC4739"/>
<path d="M312,72Q106.3,915.1 312,1758.2" stroke="#DA664B"/>
<path d="M312,110Q106.3,953.2 312,1796.4" stroke="#C1372F"/>
<path d="M312,72Q97,953.3 312,1834.5" stroke="#C63D35"/>
<path d="M312,110Q97,991.4 312,1872.7" stroke="#D2563F"/>
</g>
<use href="#ah" x="312" y="149.4" fill="#C63D35"/>
<use href="#ah" x="312" y="187.5" fill="#D2563F"/>
<use href="#ah" x="312" y="225.6" fill="#CC4739"/>
<use href="#ah" x="312" y="308.9" fill="#DA664B"/>
<use href="#ah" x="312" y="347.1" fill="#C1372F"/>
<use href="#ah" x="312" y="385.2" fill="#C63D35"/>
<use href="#ah" x="312" y="423.3" fill="#D2563F"/>
<use href="#ah" x="312" y="461.5" fill="#CC4739"/>
<use href="#ah" x="312" y="499.6" fill="#DA664B"/>
<use href="#ah" x="312" y="537.8" fill="#C1372F"/>
<use href="#ah" x="312" y="575.9" fill="#C63D35"/>
<use href="#ah" x="312" y="614" fill="#D2563F"/>
<use href="#ah" x="312" y="652.2" fill="#CC4739"/>
<use href="#ah" x="312" y="690.3" fill="#DA664B"/>
<use href="#ah" x="312" y="728.5" fill="#C1372F"/>
<use href="#ah" x="312" y="766.6" fill="#C63D35"/>
<use href="#ah" x="312" y="804.7" fill="#D2563F"/>
<use href="#ah" x="312" y="842.9" fill="#CC4739"/>
<use href="#ah" x="312" y="881" fill="#DA664B"/>
<use href="#ah" x="312" y="919.2" fill="#C1372F"/>
<use href="#ah" x="312" y="957.3" fill="#C63D35"/>
<use href="#ah" x="312" y="1033.6" fill="#D2563F"/>
<use href="#ah" x="312" y="1071.7" fill="#CC4739"/>
<use href="#ah" x="312" y="1109.9" fill="#DA664B"/>
<use href="#ah" x="312" y="1148" fill="#C1372F"/>
<use href="#ah" x="312" y="1186.1" fill="#C63D35"/>
<use href="#ah" x="312" y="1224.3" fill="#D2563F"/>
<use href="#ah" x="312" y="1262.4" fill="#CC4739"/>
<use href="#ah" x="312" y="1300.6" fill="#DA664B"/>
<use href="#ah" x="312" y="1338.7" fill="#C1372F"/>
<use href="#ah" x="312" y="1415" fill="#C63D35"/>
<use href="#ah" x="312" y="1453.1" fill="#D2563F"/>
<use href="#ah" x="312" y="1491.3" fill="#CC4739"/>
<use href="#ah" x="312" y="1529.4" fill="#DA664B"/>
<use href="#ah" x="312" y="1567.5" fill="#C1372F"/>
<use href="#ah" x="312" y="1605.7" fill="#C63D35"/>
<use href="#ah" x="312" y="1643.8" fill="#D2563F"/>
<use href="#ah" x="312" y="1720.1" fill="#CC4739"/>
<use href="#ah" x="312" y="1758.2" fill="#DA664B"/>
<use href="#ah" x="312" y="1796.4" fill="#C1372F"/>
<use href="#ah" x="312" y="1834.5" fill="#C63D35"/>
<use href="#ah" x="312" y="1872.7" fill="#D2563F"/>

<!-- arrows: blue -->
<g fill="none" stroke-width="3" stroke="#5F9FCE">
<path d="M312,34Q279.8,149 312,264"/>
<path d="M312,34Q177.4,514.7 312,995.4"/>
<path d="M312,34Q124,705.4 312,1376.8"/>
<path d="M312,34Q81.3,858 312,1682"/>
</g>
<use href="#ah" x="312" y="264" fill="#6AA6D1"/>
<use href="#ah" x="312" y="995.4" fill="#6AA6D1"/>
<use href="#ah" x="312" y="1376.8" fill="#6AA6D1"/>
<use href="#ah" x="312" y="1682" fill="#6AA6D1"/>

<!-- Correlation legend -->
<g font-family="'Liberation Sans', Arial, sans-serif" fill="#000">
<text x="15" y="845.7" font-size="31.3">Correlation</text>
<rect x="14.3" y="863.3" width="46.4" height="229.4" fill="url(#gCor)"/>
<path d="M14.3,922.1h9.3M51.4,922.1h9.3M14.3,979.2h9.3M51.4,979.2h9.3M14.3,1036.2h9.3M51.4,1036.2h9.3M14.3,865h9.3M51.4,865h9.3M14.3,1091.5h9.3M51.4,1091.5h9.3" stroke="#fff" stroke-width="1.3" fill="none"/>
<g font-size="23.3">
<text x="75" y="873.3">1.0</text>
<text x="75" y="930.4">0.5</text>
<text x="75" y="987.5">0.0</text>
<text x="75" y="1044.5">-0.5</text>
<text x="75" y="1101.6">-1.0</text>
</g>

<!-- TFA legend -->
<text x="1353" y="680" font-size="31.3">TFA</text>
<rect x="1351.7" y="696.8" width="46.6" height="229.4" fill="url(#gTFA)"/>
<path d="M1351.7,699.3h9.3M1389,699.3h9.3M1351.7,756h9.3M1389,756h9.3M1351.7,812.7h9.3M1389,812.7h9.3M1351.7,869.4h9.3M1389,869.4h9.3M1351.7,924.5h9.3M1389,924.5h9.3" stroke="#fff" stroke-width="1.3" fill="none"/>
<g font-size="23.3">
<text x="1412.7" y="707.6">2</text>
<text x="1412.7" y="764.3">1</text>
<text x="1412.7" y="821">0</text>
<text x="1412.7" y="877.7">-1</text>
<text x="1412.7" y="934.3">-2</text>
</g>

<!-- expression legend -->
<text x="1353" y="1011" font-size="31.3">expression</text>
<rect x="1351.7" y="1030.6" width="46.6" height="229" fill="url(#gExp)"/>
<path d="M1351.7,1032.6h9.3M1389,1032.6h9.3M1351.7,1089.4h9.3M1389,1089.4h9.3M1351.7,1146.1h9.3M1389,1146.1h9.3M1351.7,1202.9h9.3M1389,1202.9h9.3M1351.7,1258h9.3M1389,1258h9.3" stroke="#fff" stroke-width="1.3" fill="none"/>
<g font-size="23.3">
<text x="1412.7" y="1040.9">2</text>
<text x="1412.7" y="1097.7">1</text>
<text x="1412.7" y="1154.4">0</text>
<text x="1412.7" y="1211.2">-1</text>
<text x="1412.7" y="1267.9">-2</text>
</g>
</g>
</svg>
</body></html>
